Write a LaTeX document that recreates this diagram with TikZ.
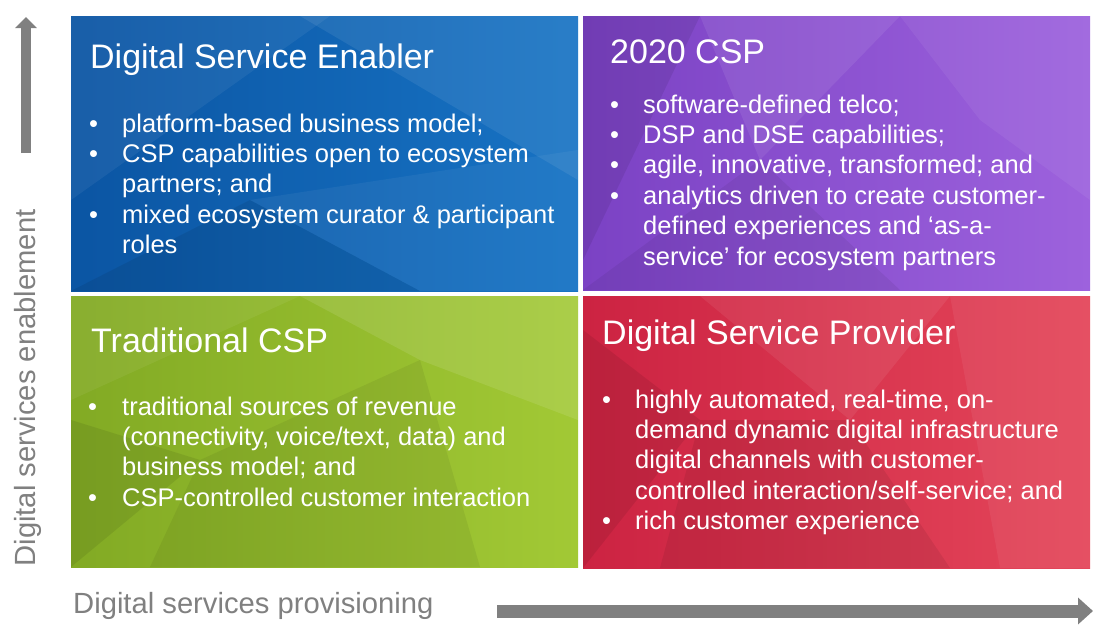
\documentclass[tikz,border=0pt]{standalone}
\usepackage{fontspec}
\setmainfont{Liberation Sans}
\usetikzlibrary{positioning,arrows.meta}

\definecolor{blueL}{HTML}{0B55A3}
\definecolor{blueR}{HTML}{1773C4}
\definecolor{purpleL}{HTML}{7B42C4}
\definecolor{purpleR}{HTML}{9D62DD}
\definecolor{greenL}{HTML}{82AA24}
\definecolor{greenR}{HTML}{A2C935}
\definecolor{redL}{HTML}{CC2342}
\definecolor{redR}{HTML}{E4465A}
\definecolor{axisgray}{HTML}{808080}

\begin{document}
\begin{tikzpicture}[x=1pt, y=-1pt,
  quad/.style={anchor=north west, inner sep=0pt, minimum width=507pt},
  title/.style={anchor=base west, inner sep=0pt, text=white, font=\fontsize{34}{40}\selectfont},
  items/.style={anchor=base west, inner sep=0pt, text=white, font=\fontsize{25.5}{30.4}\selectfont},
  axislabel/.style={inner sep=0pt, text=axisgray, font=\fontsize{29.2}{34}\selectfont},
  axisarrow/.style={draw=axisgray}]
\useasboundingbox (0,0) rectangle (1105,640);

% quadrants
\node[quad, minimum height=275pt, left color=blueL, right color=blueR] (dse) at (71,16) {};
\node[quad, minimum height=274pt, left color=purpleL, right color=purpleR] (csp20) at (583,16) {};
\node[quad, minimum height=271pt, left color=greenL, right color=greenR] (tcsp) at (71,296) {};
\node[quad, minimum height=272pt, left color=redL, right color=redR] (dsp) at (583,296) {};

% facets
\begin{scope}
\clip (dse.north west) rectangle (dse.south east);
\fill[white, opacity=.06] (71,16) -- (330,16) -- (71,200) -- cycle;
\fill[white, opacity=.08] (300,16) -- (578,16) -- (578,180) -- cycle;
\fill[black, opacity=.08] (71,291) -- (250,200) -- (420,291) -- cycle;
\fill[white, opacity=.05] (250,200) -- (578,150) -- (578,291) -- (420,291) -- cycle;
\end{scope}
\begin{scope}
\clip (csp20.north west) rectangle (csp20.south east);
\fill[black, opacity=.08] (583,16) -- (700,16) -- (583,260) -- cycle;
\fill[white, opacity=.08] (700,16) -- (900,16) -- (760,160) -- cycle;
\fill[white, opacity=.06] (900,16) -- (1090,16) -- (1090,200) -- (980,120) -- cycle;
\fill[black, opacity=.06] (583,290) -- (760,160) -- (900,290) -- cycle;
\end{scope}
\begin{scope}
\clip (tcsp.north west) rectangle (tcsp.south east);
\fill[white, opacity=.10] (300,296) -- (578,296) -- (578,420) -- (420,360) -- cycle;
\fill[black, opacity=.08] (71,420) -- (200,460) -- (71,567) -- cycle;
\fill[black, opacity=.06] (200,460) -- (420,360) -- (480,567) -- (150,567) -- cycle;
\fill[white, opacity=.06] (71,296) -- (300,296) -- (71,400) -- cycle;
\end{scope}
\begin{scope}
\clip (dsp.north west) rectangle (dsp.south east);
\fill[black, opacity=.08] (583,330) -- (700,420) -- (583,568) -- cycle;
\fill[white, opacity=.07] (700,296) -- (950,296) -- (850,420) -- cycle;
\fill[black, opacity=.07] (700,420) -- (850,420) -- (950,568) -- (660,568) -- cycle;
\fill[white, opacity=.06] (950,296) -- (1090,296) -- (1090,568) -- (1000,568) -- cycle;
\end{scope}

% titles
\node[title] (dset) at (90,68) {Digital Service Enabler};
\node[title] (csp20t) at (610,63) {2020 CSP};
\node[title] (tcspt) at (91,352) {Traditional CSP};
\node[title] (dspt) at (602,344) {Digital Service Provider};

% bullet lists
\node[items] (dsel) at (89,132) {\begin{tabular}[t]{@{}p{33pt}@{}l@{}}
\textbullet & platform-based business model;\\
\textbullet & CSP capabilities open to ecosystem\\
 & partners; and\\
\textbullet & mixed ecosystem curator \& participant\\
 & roles
\end{tabular}};
\node[items] (csp20l) at (610,113) {\begin{tabular}[t]{@{}p{33pt}@{}l@{}}
\textbullet & software-defined telco;\\
\textbullet & DSP and DSE capabilities;\\
\textbullet & agile, innovative, transformed; and\\
\textbullet & analytics driven to create customer-\\
 & defined experiences and ‘as-a-\\
 & service’ for ecosystem partners
\end{tabular}};
\node[items] (tcspl) at (88,415) {\begin{tabular}[t]{@{}p{34pt}@{}l@{}}
\textbullet & traditional sources of revenue\\
 & (connectivity, voice/text, data) and\\
 & business model; and\\
\textbullet & CSP-controlled customer interaction
\end{tabular}};
\node[items] (dspl) at (602,408) {\begin{tabular}[t]{@{}p{33pt}@{}l@{}}
\textbullet & highly automated, real-time, on-\\
 & demand dynamic digital infrastructure\\
 & digital channels with customer-\\
 & controlled interaction/self-service; and\\
\textbullet & rich customer experience
\end{tabular}};

% axes
\coordinate (ylo) at (26,153);
\coordinate (yhi) at (26,17);
\coordinate (xlo) at (497,611);
\coordinate (xhi) at (1093,611);
\draw[axisarrow, line width=10pt, -{Triangle[length=11pt, width=21pt]}] (ylo) -- (yhi);
\draw[axisarrow, line width=13pt, -{Triangle[length=15pt, width=26pt]}] (xlo) -- (xhi);
\node[axislabel, anchor=base west] (xlab) at (73,613) {Digital services provisioning};
\node[axislabel, anchor=base, rotate=90] (ylab) at (35,388) {Digital services enablement};
\end{tikzpicture}
\end{document}
